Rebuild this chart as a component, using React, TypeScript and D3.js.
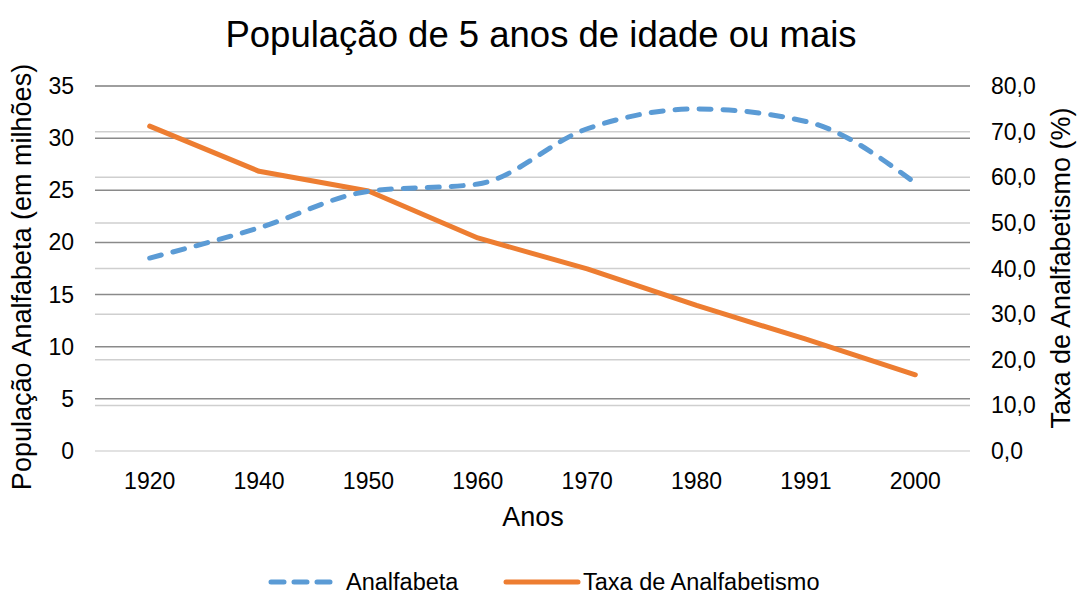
import React, { useEffect, useRef } from "react";
import * as d3 from "d3";

const anos = ["1920", "1940", "1950", "1960", "1970", "1980", "1991", "2000"];
const analfabeta = [18.5, 21.4, 24.9, 25.6, 30.9, 32.8, 31.6, 25.7];
const taxa = [71.2, 61.3, 57.0, 46.7, 39.9, 31.9, 24.5, 16.7];
const leftTicks = [0, 5, 10, 15, 20, 25, 30, 35];
const rightTicks = [0, 10, 20, 30, 40, 50, 60, 70, 80];

const FONT = "'Liberation Sans', Arial, sans-serif";

export default function App() {
  const ref = useRef<SVGSVGElement>(null);

  useEffect(() => {
    const svg = d3.select(ref.current);
    svg.selectAll("*").remove();

    const left = 95, right = 970, top = 86, bottom = 451;

    const x = d3.scaleBand().domain(anos).range([left, right]);
    const yL = d3.scaleLinear().domain([0, 35]).range([bottom, top]);
    const yR = d3.scaleLinear().domain([0, 80]).range([bottom, top]);
    const cx = (d: string) => (x(d) as number) + x.bandwidth() / 2;

    // gridlines: light from right axis, dark from left axis
    svg.append("g").selectAll("line")
      .data(rightTicks)
      .join("line")
      .attr("x1", left).attr("x2", right)
      .attr("y1", d => yR(d)).attr("y2", d => yR(d))
      .attr("stroke", d => d === 0 ? "#d9d9d9" : "#cfcfcf")
      .attr("stroke-width", 1.5);

    svg.append("g").selectAll("line")
      .data(leftTicks.filter(d => d > 0))
      .join("line")
      .attr("x1", left).attr("x2", right)
      .attr("y1", d => yL(d)).attr("y2", d => yL(d))
      .attr("stroke", "#8a8a8a")
      .attr("stroke-width", 1.5);

    // tick labels
    svg.append("g").selectAll("text")
      .data(leftTicks)
      .join("text")
      .attr("x", 74).attr("y", d => yL(d))
      .attr("dy", "0.35em")
      .attr("text-anchor", "end")
      .attr("font-size", 23)
      .attr("font-family", FONT)
      .text(d => d);

    svg.append("g").selectAll("text")
      .data(rightTicks)
      .join("text")
      .attr("x", 991).attr("y", d => yR(d))
      .attr("dy", "0.35em")
      .attr("font-size", 23)
      .attr("font-family", FONT)
      .text(d => d3.format(".1f")(d).replace(".", ","));

    svg.append("g").selectAll("text")
      .data(anos)
      .join("text")
      .attr("x", d => cx(d)).attr("y", 481)
      .attr("dy", "0.35em")
      .attr("text-anchor", "middle")
      .attr("font-size", 23)
      .attr("font-family", FONT)
      .text(d => d);

    // lines
    const lineTaxa = d3.line<number>()
      .x((_, i) => cx(anos[i]))
      .y(d => yR(d));
    svg.append("path")
      .datum(taxa)
      .attr("d", lineTaxa)
      .attr("fill", "none")
      .attr("stroke", "#ed7d31")
      .attr("stroke-width", 5)
      .attr("stroke-linecap", "round")
      .attr("stroke-linejoin", "round");

    const lineAnalf = d3.line<number>()
      .x((_, i) => cx(anos[i]))
      .y(d => yL(d))
      .curve(d3.curveMonotoneX);
    svg.append("path")
      .datum(analfabeta)
      .attr("d", lineAnalf)
      .attr("fill", "none")
      .attr("stroke", "#5b9bd5")
      .attr("stroke-width", 5)
      .attr("stroke-dasharray", "12 12")
      .attr("stroke-linecap", "round");

    // titles
    svg.append("text")
      .attr("x", 541).attr("y", 34)
      .attr("dy", "0.35em")
      .attr("text-anchor", "middle")
      .attr("font-size", 36.5)
      .attr("font-family", FONT)
      .text("População de 5 anos de idade ou mais");

    svg.append("text")
      .attr("x", 533).attr("y", 517)
      .attr("dy", "0.35em")
      .attr("text-anchor", "middle")
      .attr("font-size", 27)
      .attr("font-family", FONT)
      .text("Anos");

    svg.append("text")
      .attr("transform", "translate(22, 277) rotate(-90)")
      .attr("dy", "0.35em")
      .attr("text-anchor", "middle")
      .attr("font-size", 27)
      .attr("font-family", FONT)
      .text("População Analfabeta (em milhões)");

    svg.append("text")
      .attr("transform", "translate(1061, 268) rotate(-90)")
      .attr("dy", "0.35em")
      .attr("text-anchor", "middle")
      .attr("font-size", 27)
      .attr("font-family", FONT)
      .text("Taxa de Analfabetismo (%)");

    // legend
    const ly = 582;
    const lg = svg.append("g");
    lg.append("line")
      .attr("x1", 271).attr("x2", 331).attr("y1", ly).attr("y2", ly)
      .attr("stroke", "#5b9bd5").attr("stroke-width", 5)
      .attr("stroke-dasharray", "13 10").attr("stroke-linecap", "round");
    lg.append("text")
      .attr("x", 346).attr("y", ly).attr("dy", "0.35em")
      .attr("font-size", 23.5).attr("font-family", FONT)
      .text("Analfabeta");
    lg.append("line")
      .attr("x1", 506).attr("x2", 578).attr("y1", ly).attr("y2", ly)
      .attr("stroke", "#ed7d31").attr("stroke-width", 5)
      .attr("stroke-linecap", "round");
    lg.append("text")
      .attr("x", 583).attr("y", ly).attr("dy", "0.35em")
      .attr("font-size", 23.5).attr("font-family", FONT)
      .text("Taxa de Analfabetismo");
  }, []);

  return (
    <svg ref={ref} width={1077} height={596}
      style={{ position: "absolute", left: 0, top: 0, background: "#fff" }} />
  );
}
